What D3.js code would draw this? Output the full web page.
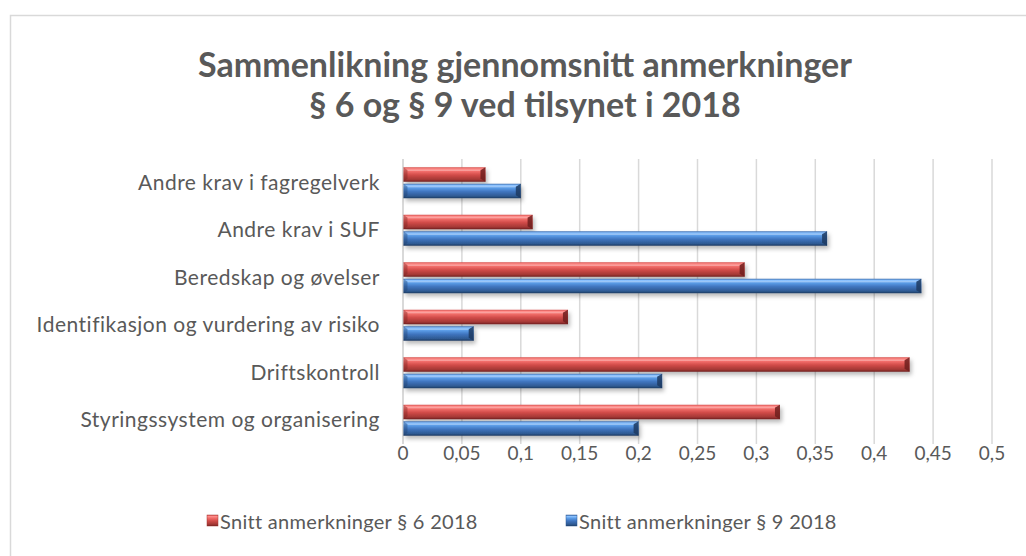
<!DOCTYPE html>
<html><head><meta charset="utf-8">
<script src="https://cdn.jsdelivr.net/npm/d3@7"></script>
<style>body{margin:0;background:#fff}svg{display:block}text{font-family:Lato,"Open Sans",sans-serif;fill:#595959}</style>
</head><body><svg id="c" width="1026" height="556"></svg>
<script>
const categories = ["Andre krav i fagregelverk","Andre krav i SUF","Beredskap og øvelser","Identifikasjon og vurdering av risiko","Driftskontroll","Styringssystem og organisering"];
const seriesNames = ["Snitt anmerkninger § 6 2018","Snitt anmerkninger § 9 2018"];
const s6 = [0.07,0.11,0.29,0.14,0.43,0.32];
const s9 = [0.10,0.36,0.44,0.06,0.22,0.20];
const ticks = [0,0.05,0.1,0.15,0.2,0.25,0.3,0.35,0.4,0.45,0.5];
const titleLines = ["Sammenlikning gjennomsnitt anmerkninger","§ 6 og § 9 ved tilsynet i 2018"];

const svg = d3.select("#c");
const defs = svg.append("defs");
function grad(id, stops){
  const g = defs.append("linearGradient").attr("id",id).attr("x1",0).attr("y1",0).attr("x2",0).attr("y2",1);
  stops.forEach(s=>g.append("stop").attr("offset",s[0]).attr("stop-color",s[1]));
}
grad("gRed",[[0,"#d64f4c"],[0.12,"#ff8e8b"],[0.3,"#f06b68"],[0.55,"#cf4a47"],[0.85,"#a33835"],[1,"#6e1f1d"]]);
grad("gBlue",[[0,"#3d6fb0"],[0.12,"#8cc2ff"],[0.3,"#5a9be6"],[0.55,"#3f74be"],[0.85,"#2f5a93"],[1,"#1d3a60"]]);
const f = defs.append("filter").attr("id","sh").attr("x","-5%").attr("y","-30%").attr("width","115%").attr("height","180%");
f.append("feDropShadow").attr("dx",2).attr("dy",3).attr("stdDeviation",2).attr("flood-color","#000").attr("flood-opacity",0.28);

svg.append("rect").attr("x",10.5).attr("y",15.5).attr("width",1030).attr("height",560).attr("fill","#fff").attr("stroke","#d9d9d9").attr("stroke-width",1.5);

svg.selectAll("text.title").data(titleLines).join("text").attr("class","title")
  .attr("x",525).attr("y",(d,i)=>77+i*40).attr("text-anchor","middle")
  .style("font-size","34px").style("font-weight","bold").text(d=>d);

const x = d3.scaleLinear().domain([0,0.5]).range([403,992]);
const y = d3.scaleBand().domain(categories).range([159,444]);

// gridlines
svg.append("g").selectAll("line").data(ticks.slice(1)).join("line")
  .attr("x1",d=>x(d)).attr("x2",d=>x(d)).attr("y1",159).attr("y2",444)
  .attr("stroke","#d9d9d9").attr("stroke-width",1.5);
svg.append("line").attr("x1",x(0)).attr("x2",x(0)).attr("y1",159).attr("y2",444).attr("stroke","#d9d9d9").attr("stroke-width",2);

// x tick labels
svg.append("g").selectAll("text").data(ticks).join("text")
  .attr("x",d=>x(d)).attr("y",460).attr("text-anchor","middle").style("font-size","19px")
  .text(d=>d3.format("")(d).replace(".",","));

// category labels
svg.append("g").selectAll("text").data(categories).join("text")
  .attr("x",380).attr("y",d=>y(d)+y.bandwidth()/2+7).attr("text-anchor","end")
  .style("font-size","21px").style("letter-spacing","0.5px").text(d=>d);

const bh = 14.5;
function drawBar(g, x0, x1, yy, fill, cap){
  g.append("rect").attr("x",x0).attr("y",yy).attr("width",x1-x0).attr("height",bh).attr("fill",`url(#${fill})`).attr("filter","url(#sh)");
  g.append("path").attr("d",`M${x1-5},${yy+3}L${x1},${yy}L${x1},${yy+bh}L${x1-5},${yy+bh-3}Z`).attr("fill",cap).attr("opacity",0.85);
  g.append("path").attr("d",`M${x0},${yy}L${x0+4},${yy+3}L${x0+4},${yy+bh-3}L${x0},${yy+bh}Z`).attr("fill",cap).attr("opacity",0.35);
  g.append("line").attr("x1",x0+4).attr("x2",x1-5).attr("y1",yy+3).attr("y2",yy+3).attr("stroke","#fff").attr("stroke-opacity",0.35);
}
const bars = svg.append("g");
categories.forEach((c,i)=>{
  const cy = y(c)+y.bandwidth()/2;
  drawBar(bars, x(0)+0.5, x(s6[i]), cy-bh-1, "gRed", "#6e1f1d");
  drawBar(bars, x(0)+0.5, x(s9[i]), cy+1, "gBlue", "#1d3a60");
});

// legend
const lg = svg.append("g");
const lx = [207,566];
seriesNames.forEach((n,i)=>{
  lg.append("rect").attr("x",lx[i]).attr("y",515).attr("width",11).attr("height",11).attr("fill",i?"url(#gBlue)":"url(#gRed)").attr("stroke",i?"#2f5a93":"#a33835").attr("stroke-width",0.5);
  lg.append("text").attr("x",lx[i]+13).attr("y",529).style("font-size","20px").style("letter-spacing","0.3px").text(n);
});
</script></body></html>
